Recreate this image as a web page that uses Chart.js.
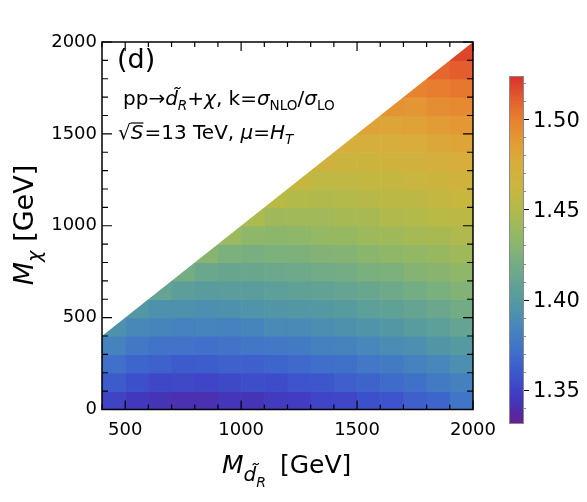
<!DOCTYPE html>
<html>
<head>
<meta charset="utf-8">
<script src="https://cdn.jsdelivr.net/npm/chart.js@4.4.1/dist/chart.umd.min.js"></script>
<style>
html,body{margin:0;padding:0;background:#fff;}
</style>
</head>
<body>
<canvas id="kChart" width="587" height="502"></canvas>
<script>
// cell centres (GeV), 100 GeV cells
var xCenters=[450,550,650,750,850,950,1050,1150,1250,1350,1450,1550,1650,1750,1850,1950];
var yCenters=[50,150,250,350,450,550,650,750,850,950,1050,1150,1250,1350,1450,1550,1650,1750,1850,1950];
// k factor, one row per M_chi cell, columns follow xCenters
var n=null;
var kValues=[
 [1.350,1.345,1.343,1.341,1.341,1.344,1.343,1.346,1.347,1.351,1.352,1.356,1.358,1.363,1.366,1.374],
 [1.361,1.356,1.352,1.353,1.351,1.353,1.355,1.354,1.358,1.359,1.363,1.365,1.369,1.372,1.377,1.381],
 [1.371,1.366,1.364,1.361,1.362,1.364,1.363,1.366,1.368,1.370,1.372,1.376,1.378,1.382,1.385,1.391],
 [1.382,1.376,1.373,1.373,1.371,1.373,1.375,1.376,1.377,1.381,1.382,1.385,1.389,1.391,1.396,1.400],
 [1.393,1.386,1.384,1.382,1.383,1.382,1.384,1.387,1.387,1.390,1.393,1.395,1.398,1.402,1.405,1.410],
 [n,1.398,1.393,1.393,1.391,1.393,1.395,1.396,1.398,1.399,1.401,1.405,1.407,1.410,1.414,1.419],
 [n,n,1.410,1.404,1.402,1.403,1.403,1.405,1.407,1.408,1.411,1.413,1.416,1.420,1.423,1.427],
 [n,n,n,1.420,1.414,1.412,1.413,1.415,1.416,1.418,1.420,1.423,1.424,1.428,1.430,1.434],
 [n,n,n,n,1.430,1.424,1.422,1.424,1.425,1.427,1.428,1.431,1.434,1.435,1.438,1.441],
 [n,n,n,n,n,1.439,1.433,1.432,1.433,1.436,1.437,1.440,1.441,1.444,1.446,1.449],
 [n,n,n,n,n,n,1.447,1.441,1.442,1.442,1.445,1.446,1.449,1.450,1.454,1.456],
 [n,n,n,n,n,n,n,1.454,1.450,1.449,1.451,1.452,1.455,1.456,1.459,1.462],
 [n,n,n,n,n,n,n,n,1.461,1.457,1.457,1.459,1.460,1.463,1.465,1.468],
 [n,n,n,n,n,n,n,n,n,1.468,1.465,1.465,1.468,1.469,1.473,1.475],
 [n,n,n,n,n,n,n,n,n,n,1.475,1.473,1.474,1.476,1.480,1.482],
 [n,n,n,n,n,n,n,n,n,n,n,1.483,1.482,1.483,1.487,1.489],
 [n,n,n,n,n,n,n,n,n,n,n,n,1.491,1.490,1.494,1.496],
 [n,n,n,n,n,n,n,n,n,n,n,n,n,1.499,1.501,1.503],
 [n,n,n,n,n,n,n,n,n,n,n,n,n,n,1.508,1.511],
 [n,n,n,n,n,n,n,n,n,n,n,n,n,n,n,1.518]
];
var xTickLabels=[500,1000,1500,2000];
var yTickLabels=[0,500,1000,1500,2000];
var cbTickLabels=[1.35,1.40,1.45,1.50];
var cbMin=1.331, cbMax=1.524;

var cellStep=100;
var fontFam='"DejaVu Sans", sans-serif';

// colour function (rainbow style, as in the colour bar)
var cmapVals=[1.331,1.336,1.345,1.356,1.370,1.385,1.400,1.420,1.435,1.450,1.462,1.476,1.488,1.500,1.512,1.524];
var cmapCols=[[108,31,146],[86,40,160],[66,56,190],[61,80,204],[63,110,203],[71,135,187],[85,154,160],[116,173,132],[146,184,101],[178,186,74],[200,182,63],[216,173,60],[226,154,52],[232,128,47],[226,90,46],[216,49,43]];

function kColor(v){
    if(v<=cmapVals[0]) return 'rgb('+cmapCols[0].join(',')+')';
    for(var i=1;i<cmapVals.length;i++){
        if(v<=cmapVals[i]){
            var f=(v-cmapVals[i-1])/(cmapVals[i]-cmapVals[i-1]);
            var a=cmapCols[i-1], b=cmapCols[i];
            return 'rgb('+Math.round(a[0]+(b[0]-a[0])*f)+','+Math.round(a[1]+(b[1]-a[1])*f)+','+Math.round(a[2]+(b[2]-a[2])*f)+')';
        }
    }
    return 'rgb('+cmapCols[cmapCols.length-1].join(',')+')';
}

var cells=[];
for(var r=0;r<yCenters.length;r++){
    for(var c=0;c<xCenters.length;c++){
        if(kValues[r][c]!==null) cells.push({x:xCenters[c],y:yCenters[r],v:kValues[r][c]});
    }
}

function richText(ctx,x,y,parts,size){
    parts.forEach(function(p){
        var s=size*(p.scale||1);
        ctx.font=(p.it?'italic ':'')+s+'px '+fontFam;
        var dy=(p.dy||0)*size;
        ctx.fillText(p.t,x,y+dy);
        var w=ctx.measureText(p.t).width;
        if(p.over){
            ctx.save();
            ctx.lineWidth=1.2;
            ctx.beginPath();
            ctx.moveTo(x,y-size*0.80);
            ctx.lineTo(x+w,y-size*0.80);
            ctx.stroke();
            ctx.restore();
        }
        x+=w+(p.gap||0);
    });
    return x;
}
function textWidth(ctx,parts,size){
    var w=0;
    parts.forEach(function(p){
        ctx.font=(p.it?'italic ':'')+(size*(p.scale||1))+'px '+fontFam;
        w+=ctx.measureText(p.t).width+(p.gap||0);
    });
    return w;
}

var heatPlugin={
    id:'heat',
    beforeDatasetsDraw:function(chart){
        var ctx=chart.ctx, xs=chart.scales.x, ys=chart.scales.y;
        var h=cellStep/2;
        ctx.save();
        ctx.beginPath();
        ctx.moveTo(xs.getPixelForValue(xs.min),ys.getPixelForValue(ys.min));
        ctx.lineTo(xs.getPixelForValue(xs.max),ys.getPixelForValue(ys.min));
        ctx.lineTo(xs.getPixelForValue(xs.max),ys.getPixelForValue(xs.max));
        ctx.lineTo(xs.getPixelForValue(xs.min),ys.getPixelForValue(xs.min));
        ctx.closePath();
        ctx.clip();
        chart.data.datasets[0].data.forEach(function(p){
            var x0=xs.getPixelForValue(p.x-h), x1=xs.getPixelForValue(p.x+h);
            var y0=ys.getPixelForValue(p.y+h), y1=ys.getPixelForValue(p.y-h);
            ctx.fillStyle=kColor(p.v);
            ctx.fillRect(x0,y0,x1-x0+0.6,y1-y0+0.6);
        });
        ctx.restore();
    }
};

var framePlugin={
    id:'frame',
    afterDraw:function(chart){
        var ctx=chart.ctx, xs=chart.scales.x, ys=chart.scales.y, a=chart.chartArea;
        ctx.save();
        ctx.strokeStyle='#000';
        ctx.lineWidth=1.2;
        ctx.beginPath();
        xs.ticks.forEach(function(t){
            var px=xs.getPixelForValue(t.value);
            var len=(xTickLabels.indexOf(t.value)>=0)?9:5;
            ctx.moveTo(px,a.bottom); ctx.lineTo(px,a.bottom-len);
            ctx.moveTo(px,a.top); ctx.lineTo(px,a.top+len);
        });
        ys.ticks.forEach(function(t){
            var py=ys.getPixelForValue(t.value);
            var len=(yTickLabels.indexOf(t.value)>=0)?10:6;
            ctx.moveTo(a.left,py); ctx.lineTo(a.left+len,py);
            ctx.moveTo(a.right,py); ctx.lineTo(a.right-len,py);
        });
        ctx.stroke();
        ctx.lineWidth=1.5;
        ctx.strokeRect(a.left,a.top,a.right-a.left,a.bottom-a.top);

        // colour bar
        var cbL=509, cbR=524, cbT=76, cbB=424;
        var g=ctx.createLinearGradient(0,cbB,0,cbT);
        for(var i=0;i<cmapVals.length;i++){
            g.addColorStop((cmapVals[i]-cbMin)/(cbMax-cbMin),'rgb('+cmapCols[i].join(',')+')');
        }
        ctx.fillStyle=g;
        ctx.fillRect(cbL,cbT,cbR-cbL,cbB-cbT);
        ctx.strokeStyle='#8a8a8a';
        ctx.lineWidth=1;
        ctx.strokeRect(cbL+0.5,cbT+0.5,cbR-cbL-1,cbB-cbT-1);
        function cbY(v){ return cbB-(v-cbMin)/(cbMax-cbMin)*(cbB-cbT); }
        ctx.beginPath();
        for(var m=1.34;m<1.525;m+=0.01){
            var yy=Math.round(cbY(m))+0.5;
            ctx.moveTo(cbR,yy); ctx.lineTo(cbR+2,yy);
        }
        ctx.stroke();
        ctx.strokeStyle='#000';
        ctx.beginPath();
        cbTickLabels.forEach(function(v){
            var yy=Math.round(cbY(v))+0.5;
            ctx.moveTo(cbR,yy); ctx.lineTo(cbR+5,yy);
        });
        ctx.stroke();
        ctx.fillStyle='#000';
        ctx.font='21px '+fontFam;
        ctx.textBaseline='middle';
        ctx.textAlign='left';
        cbTickLabels.forEach(function(v){
            ctx.fillText(v.toFixed(2),533,cbY(v)+2);
        });

        // labels
        ctx.textBaseline='alphabetic';
        ctx.font='27px '+fontFam;
        ctx.fillText('(d)',117,68);
        richText(ctx,123,105,[
            {t:'pp'},{t:'\u2192'},{t:'d\u0303',it:1},{t:'R',it:1,scale:0.68,dy:0.25},
            {t:'+'},{t:'\u03c7',it:1},{t:', k='},{t:'\u03c3',it:1},
            {t:'NLO',scale:0.68,dy:0.25},{t:'/'},{t:'\u03c3',it:1},{t:'LO',scale:0.68,dy:0.25}
        ],20);
        richText(ctx,118,139,[
            {t:'\u221a'},{t:'S',it:1,over:1,gap:1},{t:'=13 TeV, '},{t:'\u03bc',it:1},
            {t:'='},{t:'H',it:1},{t:'T',it:1,scale:0.68,dy:0.25}
        ],20);

        // axis titles
        var xt=[{t:'M',it:1},{t:'d\u0303',it:1,scale:0.8,dy:0.3},{t:'R',it:1,scale:0.56,dy:0.55,gap:6},{t:' [GeV]'}];
        richText(ctx,222,473,xt,25);
        var yt=[{t:'M',it:1},{t:'\u03c7',it:1,scale:0.72,dy:0.3},{t:' [GeV]'}];
        var w=textWidth(ctx,yt,27);
        ctx.translate(33,225);
        ctx.rotate(-Math.PI/2);
        richText(ctx,-w/2,0,yt,27);
        ctx.restore();
    }
};

var ctx=document.getElementById('kChart').getContext('2d');
var kChart=new Chart(ctx,{
    type:'scatter',
    data:{
        datasets:[{
            label:'k',
            data:cells,
            pointRadius:0,
            pointHoverRadius:0,
            showLine:false
        }]
    },
    options:{
        responsive:false,
        animation:false,
        devicePixelRatio:1,
        layout:{padding:{left:0,top:42,right:114,bottom:52.5}},
        plugins:{legend:{display:false},tooltip:{enabled:false},title:{display:false}},
        scales:{
            x:{
                type:'linear',min:400,max:2000,
                grid:{display:false,drawTicks:false},
                border:{display:false},
                afterFit:function(s){ s.height=40; },
                ticks:{
                    stepSize:100,autoSkip:false,maxRotation:0,padding:10,color:'#000',
                    font:{family:'DejaVu Sans',size:18},
                    callback:function(v){ return xTickLabels.indexOf(v)>=0?String(v):''; }
                }
            },
            y:{
                type:'linear',min:0,max:2000,
                grid:{display:false,drawTicks:false},
                border:{display:false},
                afterFit:function(s){ s.width=102; },
                ticks:{
                    stepSize:100,autoSkip:false,padding:5,color:'#000',
                    font:{family:'DejaVu Sans',size:18},
                    callback:function(v){ return yTickLabels.indexOf(v)>=0?String(v):''; }
                }
            }
        }
    },
    plugins:[heatPlugin,framePlugin]
});
</script>
</body>
</html>
